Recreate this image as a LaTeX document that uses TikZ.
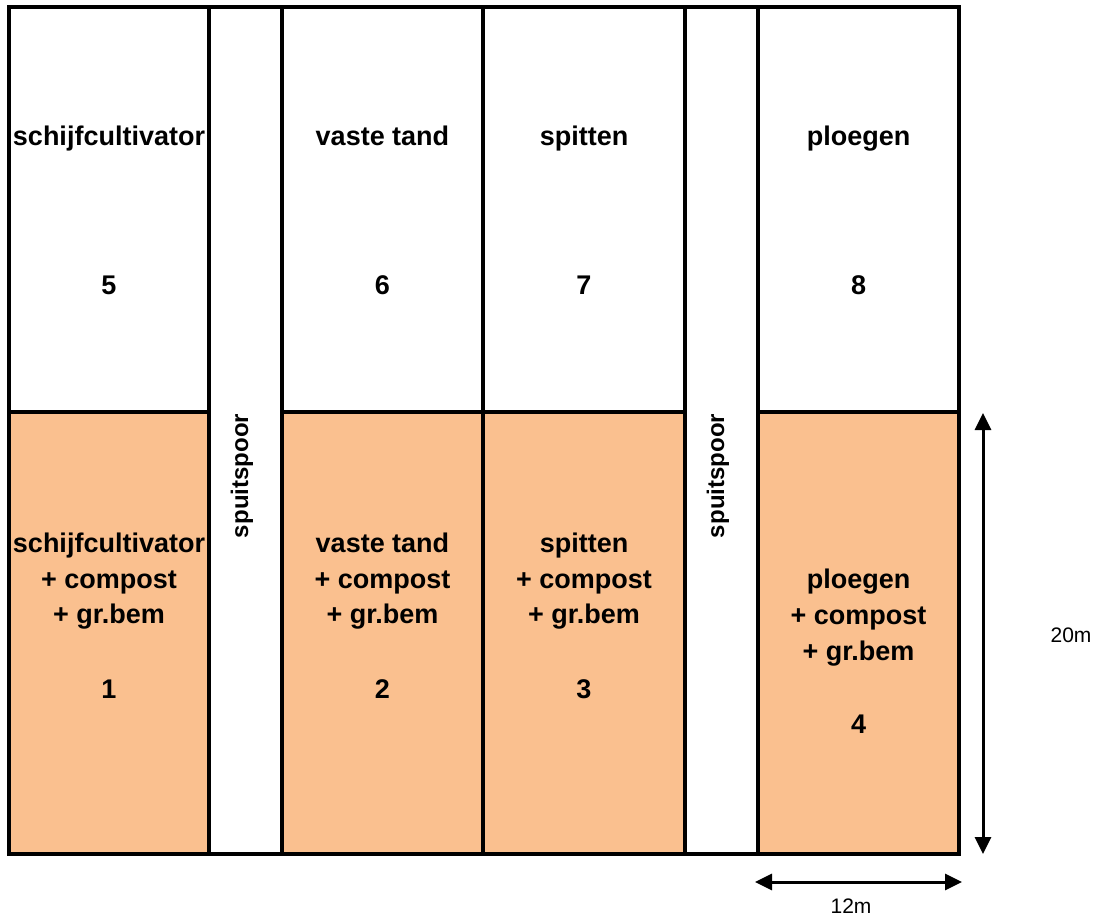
\documentclass[tikz,border=0pt]{standalone}
\usepackage{fontspec}
\setmainfont{Liberation Sans}
\usetikzlibrary{arrows.meta}
\definecolor{peach}{RGB}{250,192,143}
\begin{document}
\begin{tikzpicture}[x=1pt,y=-1pt,
  plotbox/.style={draw=black,line width=4pt},
  treated/.style={plotbox,fill=peach},
  lbl/.style={anchor=base,inner sep=0pt,font=\fontsize{27}{32}\selectfont\bfseries},
  track/.style={rotate=90,inner sep=0pt,font=\fontsize{24}{28}\selectfont\bfseries},
  dimline/.style={line width=3pt,{Triangle[width=16pt,length=17pt]}-{Triangle[width=16pt,length=17pt]}},
  dimlbl/.style={anchor=base,inner sep=0pt,font=\fontsize{21}{25}\selectfont}]
\fill[white] (0,0) rectangle (1098,919);
\useasboundingbox (0,0) rectangle (1098,919);

% treated plots (lower row)
\draw[treated] (9,412) rectangle (209,854);
\draw[treated] (282,412) rectangle (483,854);
\draw[treated] (483,412) rectangle (685,854);
\draw[treated] (758,412) rectangle (959,854);
% untreated plots (upper row)
\draw[plotbox] (9,7) rectangle (209,412);
\draw[plotbox] (282,7) rectangle (483,412);
\draw[plotbox] (483,7) rectangle (685,412);
\draw[plotbox] (758,7) rectangle (959,412);
% spray tracks
\draw[plotbox] (209,7) rectangle (282,854);
\draw[plotbox] (685,7) rectangle (758,854);

\node[track] (sp1) at (242,476) {spuitspoor};
\node[track] (sp2) at (718,476) {spuitspoor};

% upper row labels
\node[lbl] (t5) at (109,145) {schijfcultivator};
\node[lbl] (n5) at (109,294) {5};
\node[lbl] (t6) at (382.5,145) {vaste tand};
\node[lbl] (n6) at (382.5,294) {6};
\node[lbl] (t7) at (584,145) {spitten};
\node[lbl] (n7) at (584,294) {7};
\node[lbl] (t8) at (858.5,145) {ploegen};
\node[lbl] (n8) at (858.5,294) {8};

% lower row labels
\node[lbl] (t1a) at (109,552) {schijfcultivator};
\node[lbl] (t1b) at (109,588) {+ compost};
\node[lbl] (t1c) at (109,623.5) {+ gr.bem};
\node[lbl] (n1) at (109,698.5) {1};

\node[lbl] (t2a) at (382.5,552) {vaste tand};
\node[lbl] (t2b) at (382.5,588) {+ compost};
\node[lbl] (t2c) at (382.5,623.5) {+ gr.bem};
\node[lbl] (n2) at (382.5,698.5) {2};

\node[lbl] (t3a) at (584,552) {spitten};
\node[lbl] (t3b) at (584,588) {+ compost};
\node[lbl] (t3c) at (584,623.5) {+ gr.bem};
\node[lbl] (n3) at (584,698.5) {3};

\node[lbl] (t4a) at (858.5,588) {ploegen};
\node[lbl] (t4b) at (858.5,624) {+ compost};
\node[lbl] (t4c) at (858.5,660) {+ gr.bem};
\node[lbl] (n4) at (858.5,733.5) {4};

% dimensions
\coordinate (vtop) at (983,413);
\coordinate (vbot) at (983,854);
\draw[dimline] (vtop) -- (vbot);
\node[dimlbl] (len) at (1071,642) {20m};

\coordinate (hleft) at (755,882);
\coordinate (hright) at (962,882);
\draw[dimline] (hleft) -- (hright);
\node[dimlbl] (wid) at (851,913) {12m};
\end{tikzpicture}
\end{document}
